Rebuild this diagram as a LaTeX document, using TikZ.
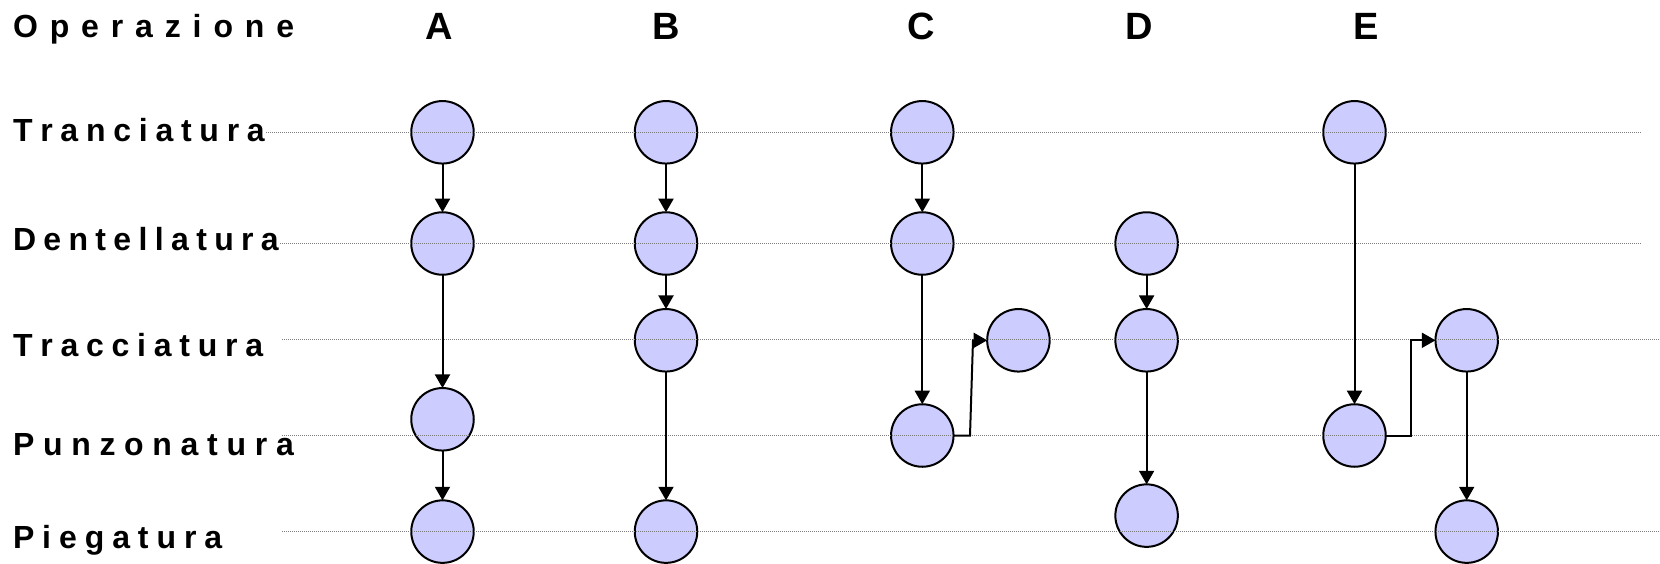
\documentclass[tikz,border=0pt]{standalone}
\usepackage{fontspec}
\setmainfont{Liberation Sans}
\usetikzlibrary{arrows.meta}
\definecolor{stagefill}{RGB}{204,204,255}
\definecolor{guidegray}{RGB}{125,125,125}
\begin{document}
\begin{tikzpicture}[x=0.5pt,y=-0.5pt,
  stage/.style={circle,draw=black,line width=1pt,fill=stagefill,minimum size=31.25pt,inner sep=0pt,outer sep=0pt},
  guide/.style={draw=guidegray,line width=0.6pt,dash pattern=on 0.5pt off 0.5pt},
  flow/.style={draw=black,line width=1pt,-{Triangle[width=7.5pt,length=6.8pt]}},
  rowlabel/.style={anchor=base west,inner sep=0pt,outer sep=0pt,font=\fontsize{16}{19}\selectfont\bfseries},
  colhead/.style={anchor=base,inner sep=0pt,font=\fontsize{19}{22}\selectfont\bfseries}]
\useasboundingbox (0,0) rectangle (1660,563);

% row labels (letter-spaced)
\node[rowlabel] (lop) at (13,37.7)  {\makebox[140.6pt][s]{O p e r a z i o n e}};
\node[rowlabel] (ltr) at (13,141.7) {\makebox[125.9pt][s]{T r a n c i a t u r a}};
\node[rowlabel] (lde) at (13,250.7) {\makebox[132.9pt][s]{D e n t e l l a t u r a}};
\node[rowlabel] (ltc) at (13,356.7) {\makebox[125.1pt][s]{T r a c c i a t u r a}};
\node[rowlabel] (lpu) at (13,455)   {\makebox[140.4pt][s]{P u n z o n a t u r a}};
\node[rowlabel] (lpi) at (13,548)   {\makebox[104.6pt][s]{P i e g a t u r a}};

% column headings
\node[colhead] (hA) at (439,39)  {A};
\node[colhead] (hB) at (666,39)  {B};
\node[colhead] (hC) at (921,39)  {C};
\node[colhead] (hD) at (1139,39) {D};
\node[colhead] (hE) at (1366,39) {E};

% process steps
\node[stage] (a1) at (442.5,132.3) {};
\node[stage] (a2) at (442.5,243.5) {};
\node[stage] (a4) at (442.5,419.3) {};
\node[stage] (a5) at (442.5,531.6) {};

\node[stage] (b1) at (666,132.3) {};
\node[stage] (b2) at (666,243.5) {};
\node[stage] (b3) at (666,340.3) {};
\node[stage] (b5) at (666,531.6) {};

\node[stage] (c1) at (922.3,132.3) {};
\node[stage] (c2) at (922.3,243.5) {};
\node[stage] (c4) at (922.3,435.5) {};
\node[stage] (c3) at (1018.4,340.3) {};

\node[stage] (d2) at (1146.6,243.5) {};
\node[stage] (d3) at (1146.6,340.3) {};
\node[stage] (d5) at (1146.6,515.6) {};

\node[stage] (e1) at (1354.5,132.3) {};
\node[stage] (e4) at (1354.5,435.5) {};
\node[stage] (e3) at (1466.7,340.3) {};
\node[stage] (e5) at (1466.7,531.6) {};

% dotted guide lines for each operation
\draw[guide] (266,132.3) -- (1641.7,132.3);
\draw[guide] (280,243.8) -- (1641.7,243.8);
\draw[guide] (282,339.6) -- (1660,339.6);
\draw[guide] (282,435.6) -- (1660,435.6);
\draw[guide] (282,531.7) -- (1660,531.7);

% sequences
\draw[flow] (a1) -- (a2);
\draw[flow] (a2) -- (a4);
\draw[flow] (a4) -- (a5);

\draw[flow] (b1) -- (b2);
\draw[flow] (b2) -- (b3);
\draw[flow] (b3) -- (b5);

\draw[flow] (c1) -- (c2);
\draw[flow] (c2) -- (c4);
\draw[flow] (c4.east) -- (970,435.5) -- (973,340.3) -- (c3.west);

\draw[flow] (d2) -- (d3);
\draw[flow] (d3) -- (d5);

\draw[flow] (e1) -- (e4);
\draw[flow] (e4.east) -- (1410.7,435.5) -- (1410.7,340.3) -- (e3.west);
\draw[flow] (e3) -- (e5);
\end{tikzpicture}
\end{document}
